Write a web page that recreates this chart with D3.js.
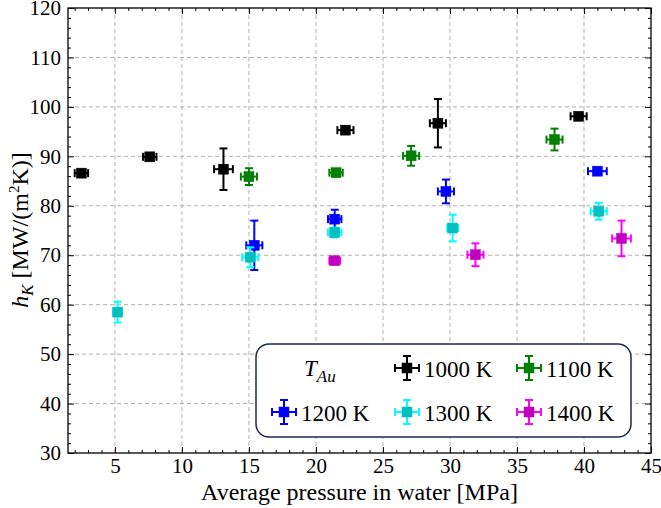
<!DOCTYPE html>
<html>
<head>
<meta charset="utf-8">
<script src="https://cdn.jsdelivr.net/npm/d3@7"></script>
<style>
  body { margin: 0; background: #fff; }
</style>
</head>
<body>
<svg id="chart" width="661" height="508"></svg>
<script>
// temperatures of the Au sample (legend order)
const seriesNames = ['1000 K', '1100 K', '1200 K', '1300 K', '1400 K']
const markerColors = ['#000000', '#008000', '#0000ff', '#00bfbf', '#bf00bf']
const barColors = ['#000000', '#008000', '#0000ff', '#00ffff', '#ff00ff']

// average pressure in water [MPa]
const p1000 = [2.5, 7.6, 13.1, 22.2, 29.1, 39.6]
const p1100 = [15.0, 21.5, 27.1, 37.8]
const p1200 = [15.4, 21.4, 29.7, 41.0]
const p1300 = [5.2, 15.1, 21.4, 30.2, 41.1]
const p1400 = [21.4, 31.9, 42.8]

// pressure error
const pErr1000 = [0.5, 0.5, 0.7, 0.6, 0.6, 0.6]
const pErr1100 = [0.6, 0.5, 0.6, 0.6]
const pErr1200 = [0.6, 0.5, 0.6, 0.7]
const pErr1300 = [0.3, 0.6, 0.5, 0.4, 0.6]
const pErr1400 = [0.4, 0.6, 0.7]

// h_K [MW/(m2K)]
const h1000 = [86.6, 89.9, 87.4, 95.3, 96.7, 98.1]
const h1100 = [85.9, 86.7, 90.1, 93.4]
const h1200 = [72.0, 77.3, 82.9, 87.0]
const h1300 = [58.5, 69.6, 74.6, 75.5, 78.9]
const h1400 = [68.9, 70.1, 73.4]

// h_K error
const hErr1000 = [0.5, 0.4, 4.2, 0.7, 4.9, 0.5]
const hErr1100 = [1.7, 0.6, 2.0, 2.2]
const hErr1200 = [5.0, 1.9, 2.4, 0.6]
const hErr1300 = [2.1, 2.0, 1.0, 2.7, 1.7]
const hErr1400 = [0.5, 2.3, 3.6]

const xTicks = [5, 10, 15, 20, 25, 30, 35, 40, 45]
const yTicks = [30, 40, 50, 60, 70, 80, 90, 100, 110, 120]

;(function (d3) {
  const font = "'Liberation Serif', 'Times New Roman', serif"
  const svg = d3.select('#chart')
  const left = 68
  const right = 651
  const top = 8
  const bottom = 453

  const x = d3.scaleLinear().domain([1.5, 45]).range([left, right])
  const y = d3.scaleLinear().domain([30, 120]).range([bottom, top])

  const series = [
    [p1000, h1000, pErr1000, hErr1000],
    [p1100, h1100, pErr1100, hErr1100],
    [p1200, h1200, pErr1200, hErr1200],
    [p1300, h1300, pErr1300, hErr1300],
    [p1400, h1400, pErr1400, hErr1400]
  ].map((s, i) => s[0].map((p, j) => ({
    i: i, p: p, h: s[1][j], pe: s[2][j], he: s[3][j]
  })))

  // grid
  const grid = svg.append('g')
    .attr('stroke', '#b0b0b0')
    .attr('stroke-width', 1)
    .attr('stroke-dasharray', '4,3')
  grid.selectAll('.gx').data(xTicks.slice(0, -1)).enter().append('line')
    .attr('x1', d => x(d)).attr('x2', d => x(d))
    .attr('y1', top).attr('y2', bottom)
  grid.selectAll('.gy').data(yTicks.slice(1, -1)).enter().append('line')
    .attr('x1', left).attr('x2', right)
    .attr('y1', d => y(d)).attr('y2', d => y(d))

  // axes, ticks inside on all four sides
  const minorX = d3.range(2, 46).filter(d => d % 5 !== 0)
  const minorY = d3.range(32, 120, 2).filter(d => d % 10 !== 0)
  const styleAxis = (g) => {
    g.attr('font-family', null)
    g.select('.domain').remove()
    g.selectAll('line').attr('stroke', '#000').attr('stroke-width', 1)
    g.selectAll('text').attr('font-size', 21).attr('fill', '#000')
  }
  svg.append('g').attr('transform', `translate(0,${bottom})`)
    .call(d3.axisBottom(x).tickValues(xTicks).tickSize(-6).tickPadding(5))
    .call(styleAxis)
  svg.append('g').attr('transform', `translate(0,${bottom})`)
    .call(d3.axisBottom(x).tickValues(minorX).tickSize(-3).tickFormat(''))
    .call(styleAxis)
  svg.append('g').attr('transform', `translate(0,${top})`)
    .call(d3.axisTop(x).tickValues(xTicks).tickSize(-6).tickFormat(''))
    .call(styleAxis)
  svg.append('g').attr('transform', `translate(0,${top})`)
    .call(d3.axisTop(x).tickValues(minorX).tickSize(-3).tickFormat(''))
    .call(styleAxis)
  svg.append('g').attr('transform', `translate(${left},0)`)
    .call(d3.axisLeft(y).tickValues(yTicks).tickSize(-6).tickPadding(7))
    .call(styleAxis)
  svg.append('g').attr('transform', `translate(${left},0)`)
    .call(d3.axisLeft(y).tickValues(minorY).tickSize(-3).tickFormat(''))
    .call(styleAxis)
  svg.append('g').attr('transform', `translate(${right},0)`)
    .call(d3.axisRight(y).tickValues(yTicks).tickSize(-6).tickFormat(''))
    .call(styleAxis)
  svg.append('g').attr('transform', `translate(${right},0)`)
    .call(d3.axisRight(y).tickValues(minorY).tickSize(-3).tickFormat(''))
    .call(styleAxis)

  svg.append('rect')
    .attr('x', left).attr('y', top)
    .attr('width', right - left).attr('height', bottom - top)
    .attr('fill', 'none').attr('stroke', '#000').attr('stroke-width', 1.3)

  // error bar marker drawn at pixel coords
  const cap = 4
  const size = 10
  function drawPoint (g, cx, cy, x0, x1, y0, y1, i) {
    const c = barColors[i]
    const lines = [
      [x0, cy, x1, cy], [cx, y0, cx, y1],
      [x0, cy - cap, x0, cy + cap], [x1, cy - cap, x1, cy + cap],
      [cx - cap, y0, cx + cap, y0], [cx - cap, y1, cx + cap, y1]
    ]
    lines.forEach(l => {
      g.append('line')
        .attr('x1', l[0]).attr('y1', l[1]).attr('x2', l[2]).attr('y2', l[3])
        .attr('stroke', c).attr('stroke-width', 2)
    })
    g.append('rect')
      .attr('x', cx - size / 2).attr('y', cy - size / 2)
      .attr('width', size).attr('height', size)
      .attr('fill', markerColors[i])
      .attr('stroke', markerColors[i]).attr('stroke-width', 0.5)
  }

  const marks = svg.append('g')
  series.forEach(s => {
    s.forEach(d => {
      drawPoint(marks.append('g'), x(d.p), y(d.h),
        x(d.p - d.pe), x(d.p + d.pe), y(d.h + d.he), y(d.h - d.he), d.i)
    })
  })

  // legend
  const legend = svg.append('g')
  legend.append('rect')
    .attr('x', 256).attr('y', 344).attr('width', 375).attr('height', 93)
    .attr('rx', 13).attr('ry', 13)
    .attr('fill', '#fff').attr('stroke', '#1c2a55').attr('stroke-width', 1.5)
  const title = legend.append('text')
    .attr('x', 304).attr('y', 376).attr('font-size', 23).attr('font-style', 'italic')
  title.append('tspan').text('T')
  title.append('tspan').attr('dy', 6).attr('font-size', 17).text('Au')

  const slots = [[407, 368], [529, 368], [284, 412], [407, 412], [529, 412]]
  seriesNames.forEach((name, i) => {
    const [cx, cy] = slots[i]
    drawPoint(legend.append('g'), cx, cy, cx - 12, cx + 12, cy - 12, cy + 12, i)
    legend.append('text')
      .attr('x', cx + 17).attr('y', cy + 9)
      .attr('font-size', 23).text(name)
  })

  // axis labels
  svg.append('text')
    .attr('x', (left + right) / 2).attr('y', 500)
    .attr('text-anchor', 'middle').attr('font-size', 24)
    .text('Average pressure in water [MPa]')

  const yl = svg.append('text')
    .attr('transform', 'translate(28,230) rotate(-90)')
    .attr('text-anchor', 'middle').attr('font-size', 24)
  yl.append('tspan').attr('font-style', 'italic').text('h')
  yl.append('tspan').attr('font-style', 'italic').attr('font-size', 17).attr('dy', 5).text('K')
  yl.append('tspan').attr('dy', -5).text(' [MW/(m')
  yl.append('tspan').attr('font-size', 15).attr('dy', -9).text('2')
  yl.append('tspan').attr('dy', 9).text('K)]')

  svg.selectAll('text').style('font-family', font)
})(window.d3)
</script>
</body>
</html>
